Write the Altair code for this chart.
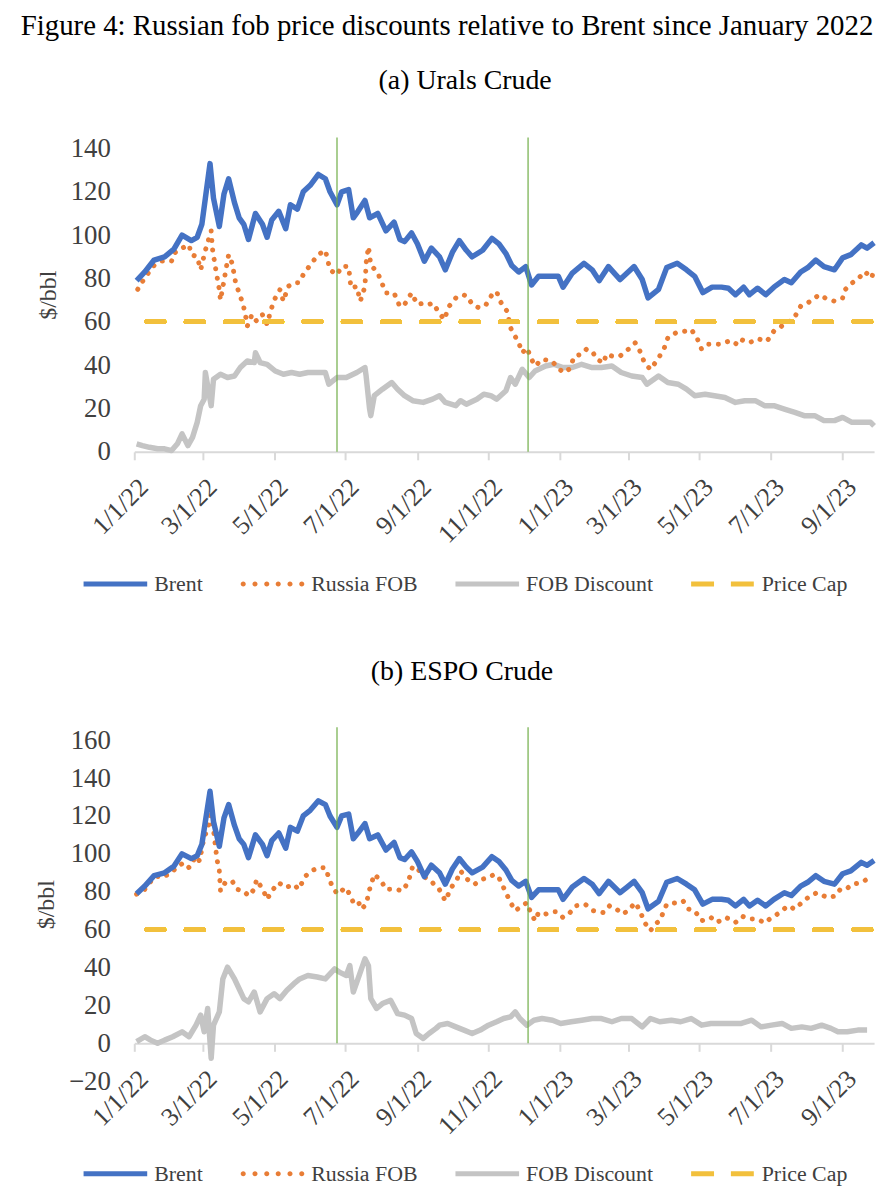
import altair as alt
import pandas as pd

FONT = "Liberation Serif"
TXT = "#404040"
START = pd.Timestamp("2022-01-01")

SERIES = ["Brent", "Russia FOB", "FOB Discount", "Price Cap"]
COLORS = ["#4472C4", "#E87D36", "#C4C4C4", "#F2C03C"]
EVENT_LINE_COLOR = "#70AD47"
PRICE_CAP = 60
EVENT_DATES = ["2022-06-24", "2022-12-05"]
TICK_MONTHS = [(2022, 1), (2022, 3), (2022, 5), (2022, 7), (2022, 9), (2022, 11),
               (2023, 1), (2023, 3), (2023, 5), (2023, 7), (2023, 9)]
X_END = (2023, 9, 28)

# Days since 1 Jan 2022 and $/bbl
brent_day = [2, 9, 17, 26, 34, 41, 49, 54, 58, 61, 65, 68, 73, 77, 81, 86, 90, 94, 98, 104,
             110, 114, 118, 124, 130, 134, 140, 145, 151, 158, 164, 168, 174, 178, 184, 188, 192, 198, 202, 209,
             216, 223, 228, 232, 238, 243, 249, 255, 262, 267, 273, 279, 285, 290, 299, 307, 313, 319, 324, 330,
             336, 341, 347, 356, 364, 368, 376, 386, 393, 399, 407, 417, 423, 429, 436, 441, 450, 457, 466, 474,
             481, 488, 496, 504, 510, 516, 523, 528, 535, 542, 549, 558, 564, 572, 578, 585, 592, 601, 608, 615,
             624, 629, 635]
brent_val = [79, 83, 88.5, 90, 93.5, 100, 97.5, 99, 105, 117, 133, 117, 104, 119, 126, 115, 108, 105, 98, 110,
             105, 99, 107, 111, 103, 114, 112, 120, 123, 128, 126, 120, 114, 120, 121, 108, 111, 116, 108, 110,
             102, 106, 98, 97, 101, 96, 88, 94, 90, 84, 92, 97.5, 93, 90, 93, 98.5, 96, 91.5, 86, 83,
             85.5, 77, 81, 81, 81, 76, 82.5, 87, 84, 79, 85.5, 79.5, 82.5, 85.5, 79.5, 71, 75, 85, 87, 84,
             81, 73.5, 76, 76, 75.5, 72.5, 76, 72.5, 75.5, 72.5, 76, 79.5, 78, 83, 85, 88.5, 85.5, 84, 89.5, 91,
             95.5, 94, 96.5]

urals_day = [3, 7, 12, 17, 24, 32, 34, 41, 47, 49, 54, 57, 61, 66, 67, 70, 73, 74, 77, 81,
             84, 87, 90, 93, 95, 97, 101, 105, 110, 114, 117, 120, 125, 128, 132, 137, 141, 145, 152, 158,
             164, 168, 174, 178, 184, 186, 191, 194, 198, 199, 201, 203, 209, 212, 216, 223, 228, 232, 238, 243,
             249, 253, 256, 262, 266, 270, 276, 282, 286, 290, 296, 302, 307, 311, 314, 320, 323, 326, 330, 333,
             337, 341, 344, 350, 358, 368, 373, 378, 384, 388, 393, 397, 403, 405, 410, 417, 424, 430, 434, 438,
             443, 447, 451, 455, 458, 465, 473, 478, 483, 487, 493, 502, 510, 516, 519, 528, 535, 543, 549, 553,
             559, 565, 568, 572, 578, 584, 588, 593, 601, 608, 610, 616, 622, 627, 633, 635]
urals_val = [75, 78.6, 82.5, 86, 88, 88, 91.6, 94, 95.5, 91, 90, 84, 93, 102, 94, 84, 74.8, 70, 79, 91,
             87, 78, 73.3, 68.7, 64.4, 58, 63.3, 60.3, 63.3, 58.8, 64.9, 70, 74.8, 69.5, 76.3, 78, 78, 81.7, 87, 91,
             93, 84, 81.7, 85.5, 85.5, 75.6, 76.3, 69.5, 76.3, 87, 94.7, 86.3, 82.5, 78.6, 73.3, 73.3, 67, 68, 73.3, 68,
             68.7, 68, 68.7, 64, 61, 67, 71, 72.5, 71.8, 68, 66.4, 68, 72.5, 74, 69.5, 64.9, 57.2, 54.2, 50.3, 45.7,
             48, 42.7, 39.6, 42.7, 42, 36.6, 38, 44.2, 45, 47.3, 46.5, 42.7, 41, 45, 44.2, 44.2, 47.3, 50.3, 46.5, 41,
             38, 41, 44.2, 48, 52.6, 55, 55.7, 56.5, 52.6, 47.3, 49.6, 49.6, 51, 49.6, 52.2, 50.3, 52.2, 51, 55.7, 56.8,
             59.5, 60.7, 63.3, 67.2, 68.7, 71, 72.5, 71, 69.5, 71, 74.8, 77.9, 80.2, 83.2, 80.2, 84.8]

urals_disc_day = [2, 7, 13, 20, 26, 32, 37, 41, 46, 50, 54, 57, 60, 61, 64, 66, 68, 74, 80, 86,
                  91, 97, 103, 104, 108, 114, 121, 128, 135, 142, 149, 157, 164, 167, 174, 182, 191, 198, 199, 202,
                  203, 206, 213, 221, 226, 232, 239, 248, 256, 262, 267, 276, 280, 285, 294, 300, 306, 311, 319, 323,
                  327, 333, 339, 344, 353, 360, 368, 376, 384, 393, 401, 410, 418, 427, 436, 440, 450, 458, 467, 474,
                  481, 490, 498, 507, 516, 524, 533, 541, 549, 558, 567, 575, 584, 592, 601, 608, 616, 625, 632, 635]
urals_disc_val = [3.7, 2.9, 2.1, 1.4, 1.4, 0.6, 3.7, 8.3, 2.9, 6.7, 13.6, 21.3, 24.3, 36.6, 27.4, 21.3, 33.5, 35.8, 34.3, 35,
                  38.9, 41.9, 41.2, 45.7, 41.2, 40.4, 37.3, 35.8, 36.6, 35.8, 36.6, 36.6, 36.6, 31.2, 34.3, 34.3, 36.6, 38.9, 35, 19.7,
                  16.7, 25.9, 28.9, 32, 28.9, 25.9, 23.6, 22.8, 24.3, 25.9, 22.8, 21.3, 23.6, 22, 24.3, 26.6, 25.9, 24.3, 28.2, 34.3,
                  31.2, 38.1, 34.3, 37.3, 39.6, 40.4, 38.9, 38.9, 40.4, 38.9, 38.9, 39.6, 36.6, 35, 34.3, 31.2, 35, 32, 31.2, 28.9,
                  25.9, 26.6, 25.9, 25.1, 22.8, 23.6, 23.6, 21.3, 21.3, 19.7, 18.2, 16.7, 16.7, 14.4, 14.4, 15.9, 13.6, 13.6, 13.6, 12]

espo_day = [2, 9, 13, 19, 23, 32, 37, 43, 47, 53, 56, 60, 63, 66, 68, 71, 73, 74, 78, 84,
            88, 94, 98, 103, 105, 111, 114, 118, 124, 130, 137, 141, 147, 152, 158, 164, 168, 171, 175, 181,
            185, 188, 192, 195, 199, 202, 206, 212, 216, 225, 230, 235, 239, 245, 250, 256, 262, 267, 272, 277,
            280, 286, 292, 298, 304, 309, 313, 317, 323, 327, 333, 337, 340, 344, 347, 353, 359, 363, 368, 374,
            379, 387, 394, 403, 408, 414, 419, 424, 430, 434, 438, 443, 447, 451, 457, 466, 471, 476, 481, 487,
            495, 500, 508, 516, 522, 528, 535, 541, 546, 554, 561, 567, 573, 580, 586, 595, 602, 606, 611, 616,
            624, 631]
espo_val = [78.7, 81.3, 84.8, 88.3, 87.4, 90, 93.5, 95.3, 92.7, 98.8, 96.2, 109, 112.8, 123, 112.8, 97, 91, 80.4, 84.8, 85.7,
            81.3, 80.4, 77.8, 81.3, 86.5, 80.4, 76, 80.4, 84.8, 82.2, 83.9, 81.3, 88.3, 91, 92.7, 92.7, 85.7, 81.3, 78.7, 82.2,
            78.7, 74.3, 75.2, 70.8, 73.4, 81.3, 89.2, 85.7, 81.3, 81.3, 80.4, 84.8, 93.5, 91, 87.4, 84.8, 81, 75.2, 82.2, 86.5,
            91, 86.5, 83.9, 86.5, 87.4, 89.2, 87.4, 82.2, 74.3, 70, 72.6, 74.3, 69.4, 64.7, 69, 68.2, 69.4, 69.4, 66.4, 69,
            72.6, 73.4, 70, 69, 72.6, 70.8, 68.2, 70, 74.3, 70, 63.8, 59.4, 62.9, 64.7, 73.4, 74.3, 75.2, 70.8, 70, 64.7,
            66.4, 63.8, 66.4, 63.8, 67, 65.6, 65.6, 63.5, 65.9, 69, 72.6, 70.8, 74.3, 77.8, 79.5, 76.9, 77.8, 81.3, 81.3, 83.9,
            84.8, 87.4]

espo_disc_day = [2, 9, 14, 20, 26, 33, 41, 47, 53, 57, 60, 63, 66, 68, 73, 76, 80, 86, 90, 94,
                 98, 103, 108, 114, 120, 125, 131, 137, 142, 149, 157, 164, 168, 172, 176, 182, 185, 188, 192, 198,
                 201, 203, 208, 213, 220, 226, 232, 238, 242, 248, 253, 259, 262, 269, 276, 283, 290, 297, 304, 311,
                 317, 323, 327, 331, 337, 343, 350, 359, 366, 375, 384, 393, 401, 410, 418, 427, 436, 443, 451, 461,
                 469, 478, 487, 495, 504, 512, 521, 530, 538, 547, 556, 564, 573, 581, 590, 598, 604, 612, 621, 629]
espo_disc_val = [0.9, 3.5, 1.7, 0, 1.7, 3.5, 6.1, 3.5, 9.6, 14.9, 6.1, 18.4, -7.9, 9.6, 16.6, 34, 40.2, 34, 28.8, 23.6,
                 21.9, 27.1, 16.6, 23.6, 26.2, 23.6, 28, 31.5, 34, 35.8, 35, 34, 36.7, 39.3, 37.6, 35.8, 41, 27.1, 34, 44.6,
                 41, 23.6, 18.4, 21, 22.7, 15.7, 14.9, 13.1, 5.2, 2.6, 5.2, 7.9, 9.6, 10.5, 8.7, 7, 5.2, 7, 9.6, 11.4,
                 13.1, 14, 16.6, 13.1, 9.6, 12.2, 13.1, 12.2, 10.5, 11.4, 12.2, 13.1, 13.1, 11.4, 13.1, 13.1, 8.7, 13.1, 11.4, 12.2,
                 11.4, 13.1, 9.6, 10.5, 10.5, 10.5, 10.5, 12.2, 8.7, 9.6, 10.5, 7.9, 8.7, 7.9, 9.6, 7.9, 6.1, 6.1, 7, 7]


def frame(days, vals):
    return pd.DataFrame({"date": START + pd.to_timedelta(days, unit="D"), "value": vals})


brent_df = frame(brent_day, brent_val)
events_df = pd.DataFrame({"date": pd.to_datetime(EVENT_DATES)})
legend_df = pd.DataFrame({"series": SERIES, "date": [None] * 4, "value": [None] * 4})

# legend symbols (unit box, scaled by the legend symbol size)
R = "M-1,-0.08L1,-0.08L1,0.08L-1,0.08Z"
DOTS = "".join(
    f"M{c - 0.08:.2f},0a0.08,0.08 0 1,0 0.16,0a0.08,0.08 0 1,0 -0.16,0"
    for c in [-0.92, -0.55, -0.18, 0.18, 0.55, 0.92]
)
DASH2 = "M-1,-0.08L-0.28,-0.08L-0.28,0.08L-1,0.08ZM0.25,-0.08L0.97,-0.08L0.97,0.08L0.25,0.08Z"
SHAPES = [R, DOTS, R, DASH2]

tick_vals = [alt.DateTime(year=y, month=m, date=1) for y, m in TICK_MONTHS]
x_domain = [alt.DateTime(year=2022, month=1, date=1),
            alt.DateTime(year=X_END[0], month=X_END[1], date=X_END[2])]


def panel(title, fob_df, disc_df, ymin, ymax, yvals, height):
    xoff = -(0 - ymin) * height / (ymax - ymin)
    x_axis = alt.Axis(values=tick_vals, tickCount=40, format="%-m/%-d/%y", labelAngle=-45,
                      labelFont=FONT, labelFontSize=26, labelColor=TXT, labelPadding=14,
                      labelOverlap=False, domainColor="#D9D9D9", domainWidth=2,
                      tickColor="#D9D9D9", tickWidth=2, tickSize=8, grid=False, offset=xoff,
                      title=None)
    y_axis = alt.Axis(values=yvals, tickCount=40, domain=False, ticks=False, grid=False,
                      labelFont=FONT, labelFontSize=27, labelColor=TXT, labelPadding=24,
                      labelOverlap=False, title="$/bbl", titleFont=FONT, titleFontSize=24,
                      titleFontWeight="normal", titleColor=TXT, titlePadding=10)
    X = alt.X("date:T", scale=alt.Scale(domain=x_domain), axis=x_axis)
    Y = alt.Y("value:Q", scale=alt.Scale(domain=[ymin, ymax], nice=False, zero=False), axis=y_axis)

    disc = alt.Chart(disc_df).mark_line(color=COLORS[2], strokeWidth=5.5, strokeJoin="round").encode(x=X, y=Y)
    fob = alt.Chart(fob_df).mark_line(color=COLORS[1], strokeWidth=5, strokeDash=[0.1, 9.5],
                                      strokeCap="round").encode(x=X, y=Y)
    brent = alt.Chart(brent_df).mark_line(color=COLORS[0], strokeWidth=5.5, strokeJoin="round").encode(x=X, y=Y)
    cap = alt.Chart(brent_df).mark_rule(color=COLORS[3], strokeWidth=4.5, strokeDash=[17.5, 22],
                                        strokeCap="round", strokeDashOffset=-3).encode(y=alt.Y(datum=PRICE_CAP))
    events = alt.Chart(events_df).mark_rule(color=EVENT_LINE_COLOR, strokeWidth=1.2).encode(
        x=alt.X("date:T", axis=x_axis), y=alt.Y(datum=ymax), y2=alt.Y2(datum=0))

    leg = alt.Legend(title=None, orient="none", legendX=-51, legendY=417, direction="horizontal",
                     columns=4, symbolSize=4096, symbolStrokeWidth=0, symbolOpacity=1,
                     labelFont=FONT, labelFontSize=22, labelColor=TXT, labelOffset=7,
                     columnPadding=38, padding=0, labelLimit=400)
    keys = alt.Chart(legend_df).mark_point(filled=True, opacity=1).encode(
        x=X, y=Y,
        fill=alt.Fill("series:N", scale=alt.Scale(domain=SERIES, range=COLORS), legend=leg),
        shape=alt.Shape("series:N", scale=alt.Scale(domain=SERIES, range=SHAPES), legend=leg),
    )
    return alt.layer(disc, fob, brent, cap, events, keys).properties(
        width=744, height=height,
        title=alt.TitleParams(title, font=FONT, fontSize=28, fontWeight="normal", color="#000000",
                              anchor="middle", frame="bounds", offset=40, dx=5),
    )


panel_a = panel("(a) Urals Crude", frame(urals_day, urals_val), frame(urals_disc_day, urals_disc_val),
                0, 145, list(range(0, 141, 20)), 316)
panel_b = panel("(b) ESPO Crude", frame(espo_day, espo_val), frame(espo_disc_day, espo_disc_val),
                -20, 166.8, list(range(-20, 161, 20)), 356)

chart = alt.vconcat(
    panel_a, panel_b, spacing=63,
    title=alt.TitleParams("Figure 4: Russian fob price discounts relative to Brent since January 2022",
                          font=FONT, fontSize=29, fontWeight="normal", color="#000000",
                          anchor="start", dx=-14, offset=26),
).resolve_scale(fill="independent", shape="independent").properties(
    padding={"left": 12, "top": 0, "right": 4, "bottom": 0}
).configure(font=FONT).configure_view(stroke=None).configure_axis(
    labelFont=FONT, titleFont=FONT
).configure_legend(labelFont=FONT).configure_title(font=FONT)

chart.save("out.html", embed_options={"renderer": "svg", "actions": False})
